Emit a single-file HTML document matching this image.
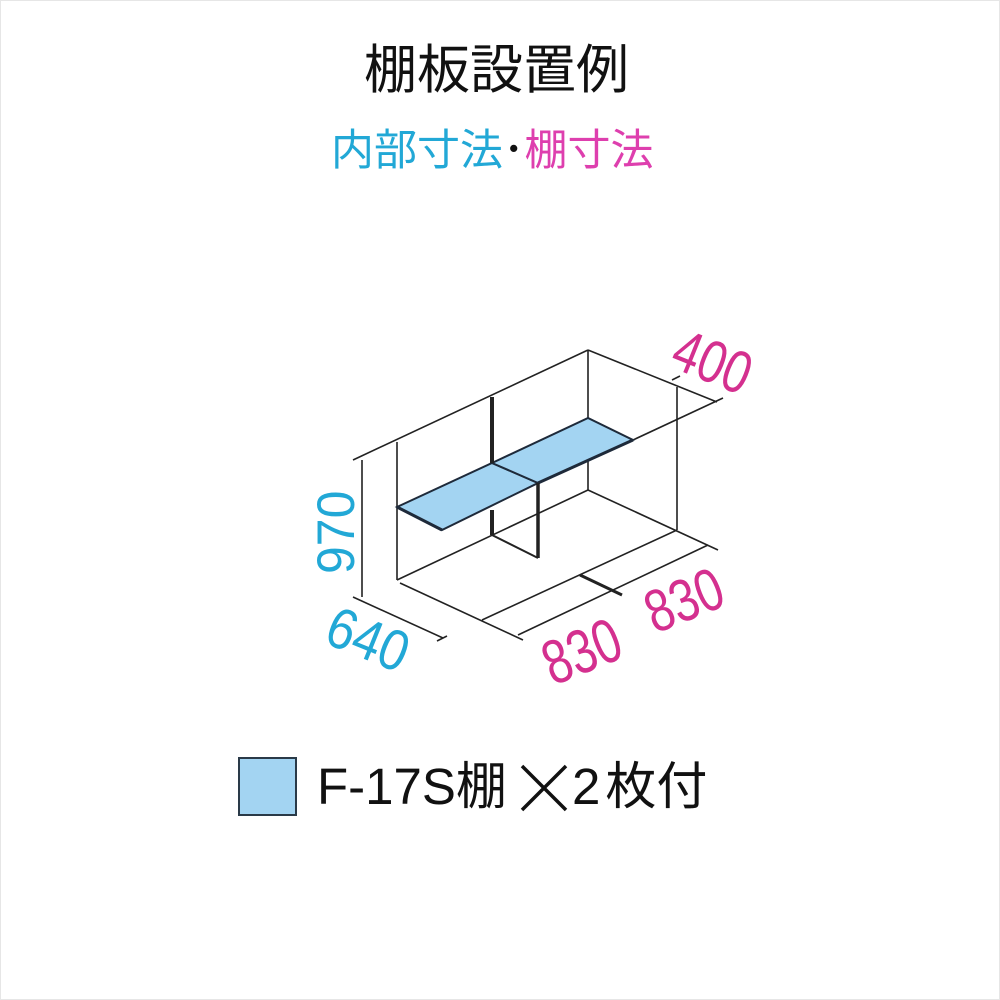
<!DOCTYPE html>
<html><head><meta charset="utf-8"><style>
body{margin:0;width:1000px;height:1000px;background:#fff;overflow:hidden;position:relative;font-family:"Liberation Sans","Noto Sans CJK JP",sans-serif}
.t{position:absolute;white-space:nowrap}
</style></head><body>
<div style="position:absolute;left:0;top:0;width:998px;height:998px;border:1px solid #e6e6e6"></div>
<div class="t" style="left:364px;top:40px;font-size:53px;line-height:62px;color:#111">棚板設置例</div>
<div class="t" style="left:331px;top:126px;font-size:43px;line-height:50px"><span style="color:#22a8d6">内部寸法</span><span style="color:#111">･</span><span style="color:#de3fae">棚寸法</span></div>
<svg width="1000" height="1000" style="position:absolute;left:0;top:0">
<g stroke="#222" stroke-width="1.6" fill="none">
<line x1="353" y1="460" x2="588" y2="350"/>
<line x1="588" y1="350" x2="717" y2="402"/>
<line x1="397" y1="442" x2="397" y2="580"/>
<line x1="588" y1="350" x2="588" y2="490"/>
<line x1="677" y1="387" x2="677" y2="530"/>
<line x1="588" y1="490" x2="718" y2="550"/>
<line x1="397" y1="580" x2="588" y2="490"/>
<line x1="400" y1="583" x2="523" y2="640"/>
<line x1="482" y1="620" x2="677" y2="530"/>
<line x1="518" y1="635" x2="708" y2="545"/>
<line x1="362" y1="460" x2="362" y2="597"/>
<line x1="353" y1="597" x2="443" y2="638"/>
<line x1="437" y1="641" x2="447" y2="636"/>
<line x1="633" y1="440" x2="723" y2="398"/>
<line x1="672" y1="380" x2="680" y2="376"/>
</g>
<line x1="580" y1="575" x2="622" y2="595" stroke="#222" stroke-width="3"/>
<polygon points="397,507 492,463 538,483 442,530" fill="#a3d4f2" stroke="#1e2a3a" stroke-width="2"/>
<polygon points="492,463 588,418 633,440 538,483" fill="#a3d4f2" stroke="#1e2a3a" stroke-width="2"/>
<line x1="397" y1="507" x2="442" y2="530" stroke="#1e2a3a" stroke-width="3"/>
<line x1="538" y1="483" x2="633" y2="440" stroke="#1e2a3a" stroke-width="3"/>
<g stroke="#222" fill="none">
<line x1="492" y1="397" x2="492" y2="463" stroke-width="4"/>
<line x1="492" y1="510" x2="492" y2="535" stroke-width="4"/>
<line x1="538" y1="483" x2="538" y2="558" stroke-width="3.5"/>
<line x1="492" y1="535" x2="538" y2="558" stroke-width="2"/>
</g>
<g font-family="Liberation Sans, sans-serif" font-size="50">
<text x="0" y="0" fill="#22a8d6" transform="translate(354,574) rotate(-90) scale(1,1.05)">970</text>
<text x="0" y="0" fill="#22a8d6" transform="translate(322,642) rotate(22) scale(1,1.15)">640</text>
<text x="0" y="0" fill="#d4308f" transform="translate(553,686) rotate(-22) scale(0.95,1.25)">830</text>
<text x="0" y="0" fill="#d4308f" transform="translate(655,634) rotate(-22) scale(0.95,1.2)">830</text>
<text x="0" y="0" fill="#d4308f" transform="translate(668,366) rotate(22) scale(0.95,1.2)">400</text>
</g>
<path d="M522 766 L566 810 M566 766 L522 810" stroke="#111" stroke-width="3.5"/>
</svg>
<div style="position:absolute;left:238px;top:757px;width:55px;height:55px;background:#a3d4f2;border:2px solid #2a3a48"></div>
<div class="t" style="left:317px;top:757px;font-size:51px;line-height:60px;color:#111">F-17S棚</div>
<div class="t" style="left:572px;top:757px;font-size:51px;line-height:60px;color:#111">2<span style="margin-left:5px">枚付</span></div>
</body></html>
